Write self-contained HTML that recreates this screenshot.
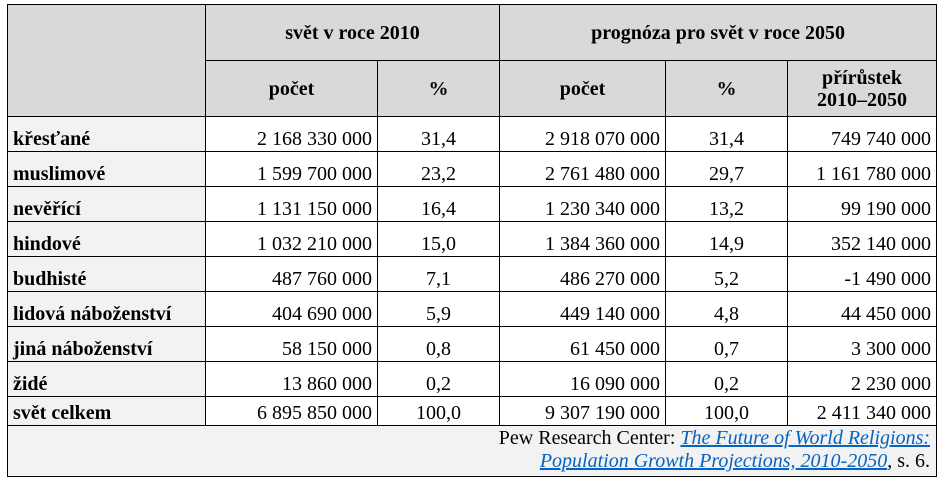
<!DOCTYPE html>
<html><head><meta charset="utf-8"><style>
body{margin:0;width:943px;height:485px;background:#fff;position:relative;font-family:"Liberation Serif",serif;font-size:20px;color:#000;overflow:hidden}
table{position:absolute;left:7px;top:4px;border-collapse:collapse;table-layout:fixed;width:929px}
td{border:1px solid #000;padding:0 5px;vertical-align:bottom;white-space:nowrap;line-height:22px}
td.h{background:#d9d9d9;font-weight:bold;text-align:center;vertical-align:middle}
td.l{background:#f2f2f2;font-weight:bold;text-align:left;padding-bottom:1px}
td.n{text-align:right;padding-bottom:1px}
td.c{text-align:center;padding-bottom:1px}
tr.r td{height:33px}
td.f{background:#f2f2f2;text-align:right;padding:1px 6px 3px 0;line-height:23px}
a{color:#0563c1;font-style:italic;text-decoration:underline}
</style></head><body>
<table>
<colgroup><col style="width:198px"><col style="width:172px"><col style="width:122px"><col style="width:166px"><col style="width:122px"><col style="width:149px"></colgroup>
<tr style="height:56px"><td class="h" rowspan="2"></td><td class="h" colspan="2">svět v roce 2010</td><td class="h" colspan="3">prognóza pro svět v roce 2050</td></tr>
<tr style="height:56px"><td class="h">počet</td><td class="h">%</td><td class="h">počet</td><td class="h">%</td><td class="h">přírůstek<br>2010–2050</td></tr>
<tr class="r"><td class="l">křesťané</td><td class="n">2 168 330 000</td><td class="c">31,4</td><td class="n">2 918 070 000</td><td class="c">31,4</td><td class="n">749 740 000</td></tr>
<tr class="r"><td class="l">muslimové</td><td class="n">1 599 700 000</td><td class="c">23,2</td><td class="n">2 761 480 000</td><td class="c">29,7</td><td class="n">1 161 780 000</td></tr>
<tr class="r"><td class="l">nevěřící</td><td class="n">1 131 150 000</td><td class="c">16,4</td><td class="n">1 230 340 000</td><td class="c">13,2</td><td class="n">99 190 000</td></tr>
<tr class="r"><td class="l">hindové</td><td class="n">1 032 210 000</td><td class="c">15,0</td><td class="n">1 384 360 000</td><td class="c">14,9</td><td class="n">352 140 000</td></tr>
<tr class="r"><td class="l">budhisté</td><td class="n">487 760 000</td><td class="c">7,1</td><td class="n">486 270 000</td><td class="c">5,2</td><td class="n">-1 490 000</td></tr>
<tr class="r"><td class="l">lidová náboženství</td><td class="n">404 690 000</td><td class="c">5,9</td><td class="n">449 140 000</td><td class="c">4,8</td><td class="n">44 450 000</td></tr>
<tr class="r"><td class="l">jiná náboženství</td><td class="n">58 150 000</td><td class="c">0,8</td><td class="n">61 450 000</td><td class="c">0,7</td><td class="n">3 300 000</td></tr>
<tr class="r"><td class="l">židé</td><td class="n">13 860 000</td><td class="c">0,2</td><td class="n">16 090 000</td><td class="c">0,2</td><td class="n">2 230 000</td></tr>
<tr style="height:29px"><td class="l">svět celkem</td><td class="n">6 895 850 000</td><td class="c">100,0</td><td class="n">9 307 190 000</td><td class="c">100,0</td><td class="n">2 411 340 000</td></tr>
<tr><td class="f" colspan="6">Pew Research Center: <a>The Future of World Religions:<br>Population Growth Projections, 2010-2050</a>, s. 6.</td></tr>
</table>
</body></html>
